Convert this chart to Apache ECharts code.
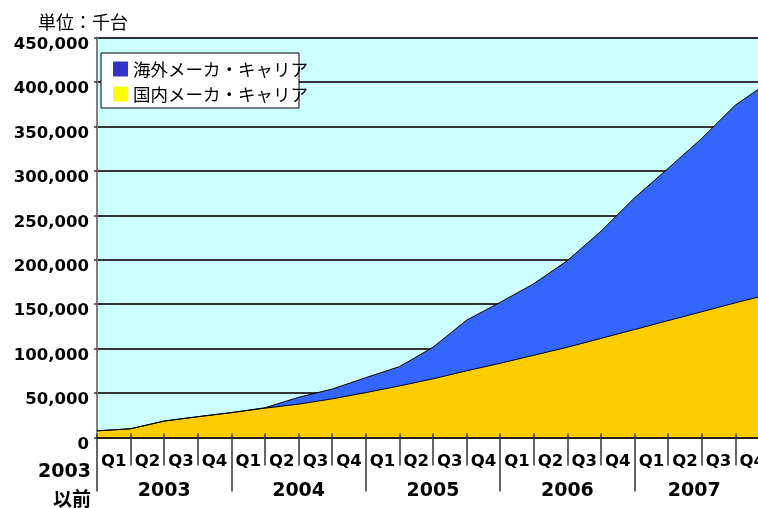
<!DOCTYPE html>
<html>
<head>
<meta charset="utf-8">
<script src="https://cdn.jsdelivr.net/npm/echarts@6/dist/echarts.min.js"></script>
<style>
  html, body { margin: 0; padding: 0; background: #ffffff; }
  #chart { width: 758px; height: 508px; }
</style>
</head>
<body>
<div id="chart"></div>
<script>
// ---- data (thousand units, cumulative) ----
const periods = ['2003以前',
  '2003 Q1', '2003 Q2', '2003 Q3', '2003 Q4',
  '2004 Q1', '2004 Q2', '2004 Q3', '2004 Q4',
  '2005 Q1', '2005 Q2', '2005 Q3', '2005 Q4',
  '2006 Q1', '2006 Q2', '2006 Q3', '2006 Q4',
  '2007 Q1', '2007 Q2', '2007 Q3', '2007 Q4'];
const quarterLabels = ['Q1', 'Q2', 'Q3', 'Q4', 'Q1', 'Q2', 'Q3', 'Q4', 'Q1', 'Q2', 'Q3', 'Q4',
  'Q1', 'Q2', 'Q3', 'Q4', 'Q1', 'Q2', 'Q3', 'Q4'];
const years = ['2003', '2004', '2005', '2006', '2007'];
const domestic = [7500, 9800, 18500, 23400, 28000, 33000, 37500, 43500, 50500, 58000, 66000,
  75000, 83500, 92500, 101500, 111500, 121500, 131500, 141500, 151500, 161000];
const overseas = [0, 0, 0, 0, 0, 500, 7700, 11000, 16800, 21700, 35500,
  57000, 68500, 80500, 97500, 120500, 148200, 171300, 195000, 222500, 239000];
const nameOverseas = '海外メーカ・キャリア';
const nameDomestic = '国内メーカ・キャリア';
const unitLabel = '単位：千台';

const numFont = 'DejaVu Sans';
const boldFont = '"DejaVu Sans", "Noto Sans CJK JP", sans-serif';
const cjkFont = '"Noto Sans CJK JP", sans-serif';

const chart = echarts.init(document.getElementById('chart'), null, { renderer: 'canvas' });

const option = {
  animation: false,
  backgroundColor: '#ffffff',
  title: {
    text: unitLabel,
    left: 33, top: 8,
    textStyle: { fontFamily: cjkFont, fontSize: 18, fontWeight: 'normal', color: '#000' }
  },
  graphic: [{
    type: 'rect',
    left: 100.5, top: 52.5,
    z: 10,
    shape: { width: 198, height: 55 },
    style: { fill: '#ffffff', stroke: '#000000', lineWidth: 1 }
  }],
  legend: {
    orient: 'vertical',
    left: 113, top: 60,
    z: 20,
    padding: 0,
    itemGap: 7,
    itemWidth: 15, itemHeight: 15,
    icon: 'rect',
    textStyle: { fontFamily: cjkFont, fontSize: 17.5, lineHeight: 18, color: '#000' },
    data: [
      { name: nameOverseas, itemStyle: { color: '#3333CC', borderWidth: 0 } },
      { name: nameDomestic, itemStyle: { color: '#FFFF00', borderWidth: 0 } }
    ]
  },
  grid: {
    left: 97, width: 672, top: 37.5, height: 400,
    outerBoundsMode: 'none',
    containLabel: false,
    show: true,
    backgroundColor: '#CCFFFF',
    borderColor: '#808080',
    borderWidth: 1
  },
  xAxis: [
    {
      type: 'category',
      data: periods,
      boundaryGap: false,
      position: 'bottom',
      z: 5,
      axisLine: { show: true, lineStyle: { color: '#222', width: 2 } },
      axisTick: { show: true, inside: true, length: 4, interval: 0, lineStyle: { color: '#333', width: 1.5 } },
      splitLine: { show: false },
      axisLabel: {
        show: true,
        interval: (idx) => idx === 0,
        formatter: (v) => v.replace('以前', '\n以前'),
        align: 'right',
        margin: 20,
        padding: [0, 6, 0, 0],
        lineHeight: 29,
        fontFamily: boldFont, fontWeight: 'bold', fontSize: 19, color: '#000'
      }
    },
    {
      type: 'category',
      data: quarterLabels,
      boundaryGap: true,
      position: 'bottom',
      z: 5,
      axisLine: { show: false },
      axisTick: { show: true, length: 28, interval: 0, lineStyle: { color: '#333', width: 1.5 } },
      splitLine: { show: false },
      axisLabel: {
        interval: 0, margin: 16,
        fontFamily: numFont, fontWeight: 'bold', fontSize: 16.5, color: '#000'
      }
    },
    {
      type: 'category',
      data: years.map((y, i) => i === years.length - 1
        ? { value: y, textStyle: { padding: [0, 15, 0, 0] } }
        : y),
      boundaryGap: true,
      position: 'bottom',
      z: 5,
      axisLine: { show: false },
      axisTick: { show: true, length: 54, interval: 0, lineStyle: { color: '#333', width: 1.5 } },
      splitLine: { show: false },
      axisLabel: {
        interval: 0, margin: 44,
        fontFamily: numFont, fontWeight: 'bold', fontSize: 19, color: '#000'
      }
    }
  ],
  yAxis: {
    type: 'value',
    min: 0, max: 450000, interval: 50000,
    axisLine: { show: true, lineStyle: { color: '#808080', width: 2 } },
    axisTick: { show: true, length: 3, lineStyle: { color: '#333', width: 1.5 } },
    splitLine: { show: true, lineStyle: { color: '#333', width: 2 } },
    axisLabel: {
      margin: 8,
      verticalAlign: 'top',
      lineHeight: 14,
      fontFamily: numFont, fontWeight: 'bold', fontSize: 16.5, color: '#000',
      formatter: (v) => v.toLocaleString('en-US')
    }
  },
  series: [
    {
      name: nameDomestic,
      type: 'line',
      stack: 'total',
      xAxisIndex: 0,
      data: domestic,
      symbol: 'none',
      lineStyle: { color: '#000', width: 1 },
      itemStyle: { color: '#FFCC00' },
      areaStyle: { color: '#FFCC00', opacity: 1 }
    },
    {
      name: nameOverseas,
      type: 'line',
      stack: 'total',
      xAxisIndex: 0,
      data: overseas,
      symbol: 'none',
      lineStyle: { color: '#000', width: 1 },
      itemStyle: { color: '#3366FF' },
      areaStyle: { color: '#3366FF', opacity: 1 }
    }
  ]
};

chart.setOption(option);
</script>
</body>
</html>
